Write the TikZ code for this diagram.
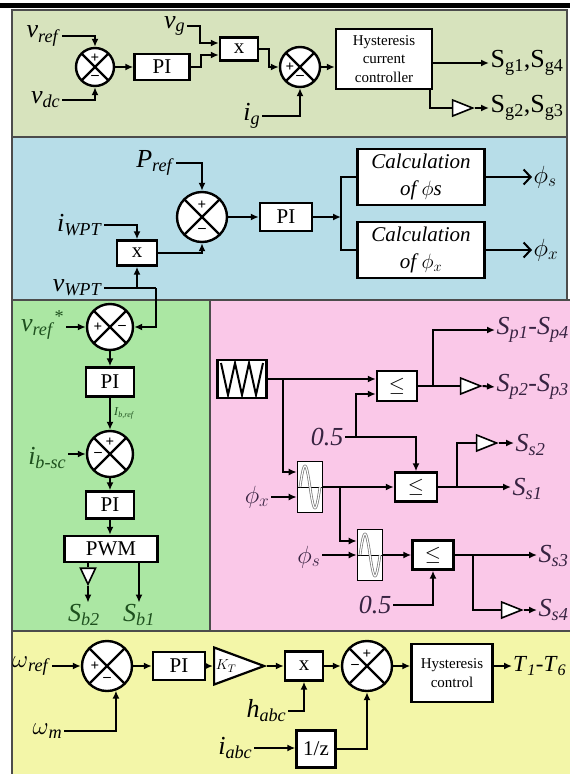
\documentclass[tikz,border=0pt]{standalone}
\usepackage{fontspec}
\setmainfont{Liberation Serif}
\usetikzlibrary{arrows.meta, shapes.geometric, calc}
\definecolor{olivebg}{RGB}{215,227,189}
\definecolor{bluebg}{RGB}{183,221,232}
\definecolor{greenbg}{RGB}{171,231,163}
\definecolor{pinkbg}{RGB}{250,200,232}
\definecolor{yellowbg}{RGB}{243,246,168}
\definecolor{greentxt}{RGB}{30,80,30}
\definecolor{pinktxt}{RGB}{55,35,65}
\newcommand{\lbl}[2]{\textit{#1}\textsubscript{\textit{#2}}}
\newcommand{\hysfont}{\fontsize{15}{18.5}\selectfont}
\newcommand{\calcfont}{\fontsize{21}{27}\selectfont\itshape}

\begin{document}
\begin{tikzpicture}[x=1pt, y=-1pt,
  wire/.style={line width=2pt},
  arr/.style={wire, -{Latex[length=8pt,width=7pt]}},
  oarr/.style={wire, -{Straight Barb[length=7pt,width=15pt]}},
  blk/.style={draw, fill=white, line width=2.4pt, inner sep=1pt, font=\fontsize{21}{21}\selectfont},
  sumc/.style={circle, draw, fill=white, line width=2.4pt, inner sep=0pt, minimum size=#1,
    path picture={\draw[line width=2.4pt] (path picture bounding box.north west) -- (path picture bounding box.south east)
      (path picture bounding box.north east) -- (path picture bounding box.south west);}},
  sgn/.style={font=\fontsize{15}{15}\selectfont\bfseries, inner sep=0pt},
  lab/.style={font=\fontsize{26}{26}\selectfont, inner sep=1.5pt},
  buf/.style={isosceles triangle, isosceles triangle stretches, draw, fill=white, line width=1.6pt,
    inner sep=0pt, minimum width=16pt, minimum height=20pt},
  gain/.style={isosceles triangle, isosceles triangle stretches, draw, fill=white, line width=2.2pt,
    inner sep=0pt, minimum width=37pt, minimum height=50pt},
  sinb/.style={draw, fill=white, line width=1.6pt, inner sep=0pt, minimum width=25pt, minimum height=51pt,
    path picture={\draw[line width=1pt] (path picture bounding box.west) -- (path picture bounding box.east);
      \draw[shift={(path picture bounding box.center)}, draw=black!55, double=white, double distance=1.2pt, line width=0.7pt]
        plot[domain=-1:1, samples=41, smooth] (\x*10, {-21*sin((\x+1)*180)});}},
  tribox/.style={draw, fill=white, line width=2.4pt, minimum width=49pt, minimum height=38pt,
    path picture={\draw[line width=2pt, shift={(path picture bounding box.center)}]
      (-21,-16) -- (-14,16) -- (-7,-16) -- (0,16) -- (7,-16) -- (14,16) -- (21,-16);}},
  panel/.style={draw=black!70, line width=1.2pt}]
\useasboundingbox (0,0) rectangle (570,774);
\clip (0,0) rectangle (570,774);

% panels
\fill (0,3) rectangle (570,7.5);
\filldraw[panel, fill=olivebg] (12,10) rectangle (567,137);
\filldraw[panel, fill=bluebg] (12,137) rectangle (567,300);
\filldraw[panel, fill=greenbg] (12,300) rectangle (210,631);
\filldraw[panel, fill=pinkbg] (210,300) rectangle (575,631);
\filldraw[panel, fill=yellowbg] (12,631) rectangle (575,790);

% dc link voltage / grid current loop
\node[sumc=38pt] (s1) at (95,67) {};
\node[sgn] (s1p) at ($(s1)+(0,-9)$) {+};
\node[sgn] (s1m) at ($(s1)+(0,10)$) {--};
\node[lab, anchor=east] (vref) at (62,36) {\lbl{v}{ref}};
\node[lab, anchor=east] (vdc) at (62,100) {\lbl{v}{dc}};
\draw[arr] (vref.east) -| (s1.north);
\draw[arr] (vdc.east) -| (s1.south);
\node[blk, minimum width=55pt, minimum height=26pt] (pi1) at (162,67) {PI};
\draw[arr] (s1.east) -- (pi1.west);
\node[blk, minimum width=38pt, minimum height=23pt] (x1) at (239,49) {x};
\node[lab, anchor=east] (vg) at (187,26) {\lbl{v}{g}};
\draw[arr] (vg.east) -- ++(13,0) |- ($(x1.west)+(0,-6)$);
\draw[arr] (pi1.east) -- ++(10,0) |- ($(x1.west)+(0,6)$);
\node[sumc=40pt] (s2) at (300,67) {};
\node[sgn] (s2p) at ($(s2)+(-10,0)$) {+};
\node[sgn] (s2m) at ($(s2)+(0,10)$) {--};
\draw[arr] (x1.east) -- ++(10,0) |- (s2.west);
\node[lab, anchor=east] (ig) at (262,116) {\lbl{i}{g}};
\draw[arr] (ig.east) -| (s2.south);
\node[blk, font=\hysfont, align=center, minimum width=96pt, minimum height=60pt] (hys1) at (384,59) {Hysteresis\\current\\controller};
\draw[arr] (s2.east) -- (s2.east -| hys1.west);
\node[lab, anchor=west] (sg14) at (489,63) {S\textsubscript{g1},S\textsubscript{g4}};
\draw[arr] (hys1.east |- sg14) -- (sg14.west);
\node[buf] (b1) at (458,108) {};
\node[lab, anchor=west] (sg23) at (489,108) {S\textsubscript{g2},S\textsubscript{g3}};
\draw[wire] ($(hys1.south east)+(-3,0)$) |- (b1.west);
\draw[arr] (b1.east) -- (sg23.west);

% WPT power loop
\node[sumc=50pt] (s3) at (202,217) {};
\node[sgn] (s3p) at ($(s3)+(0,-12)$) {+};
\node[sgn] (s3m) at ($(s3)+(0,13)$) {--};
\node[lab, anchor=east] (pref) at (176,163) {\lbl{P}{ref}};
\draw[arr] (pref.east) -| (s3.north);
\node[blk, minimum width=52pt, minimum height=28pt] (pi2) at (286,217) {PI};
\draw[arr] (s3.east) -- (pi2.west);
\coordinate (j1) at (341,217);
\draw[arr] (pi2.east) -- (j1);
\node[blk, font=\calcfont, align=center, minimum width=127pt, minimum height=56pt] (cs) at (421,177) {Calculation\\of $\phi$s};
\node[blk, font=\calcfont, align=center, minimum width=127pt, minimum height=56pt] (cx) at (421,250) {Calculation\\of $\phi_x$};
\draw[wire] (cs.west) -| (j1) |- (cx.west);
\node[lab, anchor=west] (phs) at (532,177) {$\phi_s$};
\node[lab, anchor=west] (phx) at (532,250) {$\phi_x$};
\draw[oarr] (cs.east) -- (phs.west);
\draw[oarr] (cx.east) -- (phx.west);
\node[blk, minimum width=40pt, minimum height=25pt] (x2) at (137,253) {x};
\node[lab, anchor=east] (iwpt) at (104,225) {\lbl{i}{WPT}};
\draw[arr] (iwpt.east) -| (x2.north);
\draw[arr] (x2.east) -| (s3.south);
\node[lab, anchor=east] (vwpt) at (104,288) {\lbl{v}{WPT}};

% supercapacitor loop
\node[sumc=46pt] (s4) at (110,327) {};
\node[sgn] (s4p) at ($(s4)+(-12,0)$) {+};
\node[sgn] (s4m) at ($(s4)+(12,0)$) {--};
\coordinate (vt) at (156,288);
\draw[wire] (vwpt.east) -- (vt);
\draw[arr] (vwpt.east -| x2.south) -- (x2.south);
\draw[arr] (vt) |- (s4.east);
\node[lab, text=greentxt, anchor=east] (vrs) at (66,325) {\lbl{v}{ref}\textsuperscript{*}};
\draw[arr] (vrs.east |- s4) -- (s4.west);
\node[blk, minimum width=48pt, minimum height=29pt] (pi3) at (110,382) {PI};
\draw[arr] (s4.south) -- (pi3.north);
\node[sumc=46pt] (s5) at (110,454) {};
\node[sgn] (s5p) at ($(s5)+(0,-12)$) {+};
\node[sgn] (s5m) at ($(s5)+(-12,0)$) {--};
\draw[arr] (pi3.south) -- node[right, font=\fontsize{12}{12}\selectfont, text=greentxt, inner sep=3pt] (ibref) {\lbl{I}{b,ref}} (s5.north);
\node[lab, text=greentxt, anchor=east] (ibsc) at (68,458) {\lbl{i}{b-sc}};
\draw[arr] (ibsc.east |- s5) -- (s5.west);
\node[blk, minimum width=48pt, minimum height=27pt] (pi4) at (110,505) {PI};
\draw[arr] (s5.south) -- (pi4.north);
\node[blk, minimum width=93pt, minimum height=26pt] (pwm) at (111,549) {PWM};
\draw[arr] (pi4.south) -- (pi4.south |- pwm.north);
\node[lab, text=greentxt] (sb2) at (84,615) {\lbl{S}{b2}};
\node[lab, text=greentxt] (sb1) at (139,615) {\lbl{S}{b1}};
\node[buf, shape border rotate=-90, minimum height=16pt, minimum width=15pt] (b2) at (88,573) {};
\draw[wire] (pwm.south -| b2.north) -- (b2.north);
\draw[arr] (b2.south) -- (b2.south |- sb2.north);
\draw[arr] (pwm.south -| sb1) -- (sb1.north);

% phase shift modulation
\node[tribox] (tri) at (242,379) {};
\node[blk, minimum width=40pt, minimum height=30pt] (c1) at (397,386) {$\leq$};
\draw[arr] (tri.east) -- (tri.east -| c1.west);
\coordinate (t1) at (283,379);
\node[sinb] (sin1) at (310,487) {};
\draw[arr] (t1) |- ($(sin1.west)+(0,-15)$);
\node[lab, text=pinktxt, anchor=east] (h1) at (345,437) {\textit{0.5}};
\node[blk, minimum width=42pt, minimum height=29pt] (c2) at (416,487) {$\leq$};
\draw[arr] (h1.east) -| (c2.north);
\coordinate (t6) at (356,437);
\draw[arr] (t6) |- ($(c1.west)+(0,8)$);
\draw[arr] (sin1.east) -- (c2.west);
\node[lab, text=pinktxt, anchor=east] (phx2) at (271,497) {$\phi_x$};
\draw[arr] (phx2.east) -- (phx2.east -| sin1.west);
\coordinate (t2) at (340,487);
\node[sinb] (sin2) at (370,555) {};
\draw[arr] (t2) |- ($(sin2.west)+(0,-14)$);
\node[lab, text=pinktxt, anchor=east] (phs2) at (322,557) {$\phi_s$};
\draw[arr] (phs2.east |- sin2) -- (sin2.west);
\node[blk, minimum width=41pt, minimum height=29pt] (c3) at (433,555) {$\leq$};
\draw[arr] (sin2.east) -- (c3.west);
\node[lab, text=pinktxt, anchor=east] (h2) at (393,605) {\textit{0.5}};
\draw[arr] (h2.east) -| (c3.south);
\coordinate (t4) at (433,386);
\node[lab, text=pinktxt, anchor=west] (sp14) at (495,330) {\lbl{S}{p1}-\lbl{S}{p4}};
\draw[arr] (t4) |- (sp14.west);
\node[buf] (b3) at (466,386) {};
\draw[wire] (c1.east) -- (b3.west);
\node[lab, text=pinktxt, anchor=west] (sp23) at (495,387) {\lbl{S}{p2}-\lbl{S}{p3}};
\draw[arr] (b3.east) -- (sp23.west);
\coordinate (t5) at (457,487);
\node[buf] (b4) at (482,443) {};
\draw[wire] (t5) |- (b4.west);
\node[lab, text=pinktxt, anchor=west] (ss2) at (514,445) {\lbl{S}{s2}};
\draw[arr] (b4.east) -- (b4.east -| ss2.west);
\node[lab, text=pinktxt, anchor=west] (ss1) at (511,489) {\lbl{S}{s1}};
\draw[arr] (c2.east) -- (c2.east -| ss1.west);
\coordinate (t3) at (473,555);
\node[lab, text=pinktxt, anchor=west] (ss3) at (537,556) {\lbl{S}{s3}};
\draw[arr] (c3.east) -- (c3.east -| ss3.west);
\node[buf] (b5) at (507,610) {};
\draw[wire] (t3) |- (b5.west);
\node[lab, text=pinktxt, anchor=west] (ss4) at (537,610) {\lbl{S}{s4}};
\draw[arr] (b5.east) -- (ss4.west);

% motor torque loop
\node[sumc=50pt] (s6) at (107,666) {};
\node[sgn] (s6p) at ($(s6)+(-12,0)$) {+};
\node[sgn] (s6m) at ($(s6)+(0,13)$) {--};
\node[lab, anchor=east] (wref) at (52,666) {$\omega$\textsubscript{\textit{ref}}};
\draw[arr] (wref.east) -- (s6.west);
\node[lab, anchor=east] (wm) at (64,731) {$\omega$\textsubscript{\textit{m}}};
\draw[arr] (wm.east) -| (s6.-70);
\node[blk, minimum width=52pt, minimum height=28pt] (pi5) at (179,666) {PI};
\draw[arr] (s6.east) -- (pi5.west);
\node[gain, anchor=west] (kt) at (213,666) {};
\node[font=\fontsize{15}{15}\selectfont, inner sep=0pt] (ktl) at ($(kt.west)+(13,0)$) {$K_T$};
\draw[arr] (pi5.east) -- (kt.west);
\node[blk, minimum width=38pt, minimum height=29pt] (x3) at (304,666) {x};
\draw[arr] (kt.east) -- (x3.west);
\node[lab, anchor=east] (habc) at (288,711) {\lbl{h}{abc}};
\draw[arr] (habc.east) -| (x3.south);
\node[sumc=50pt] (s7) at (367,666) {};
\node[sgn] (s7p) at ($(s7)+(0,-12)$) {+};
\node[sgn] (s7m) at ($(s7)+(-12,0)$) {--};
\draw[arr] (x3.east) -- (s7.west);
\node[lab, anchor=east] (iabc) at (254,748) {\lbl{i}{abc}};
\node[blk, minimum width=39pt, minimum height=37pt] (z1) at (316,749) {1/z};
\draw[arr] (iabc.east) -- (iabc.east -| z1.west);
\draw[arr] (z1.east) -| (s7.south);
\node[blk, font=\hysfont, align=center, minimum width=81pt, minimum height=58pt] (hys2) at (452,673) {Hysteresis\\control};
\draw[arr] (s7.east) -- (s7.east -| hys2.west);
\node[lab, anchor=west, font=\fontsize{23}{23}\selectfont, inner sep=1pt] (t16) at (512,666) {\lbl{T}{1}-\lbl{T}{6}};
\draw[arr] (hys2.east |- t16) -- (t16.west);
\end{tikzpicture}
\end{document}
